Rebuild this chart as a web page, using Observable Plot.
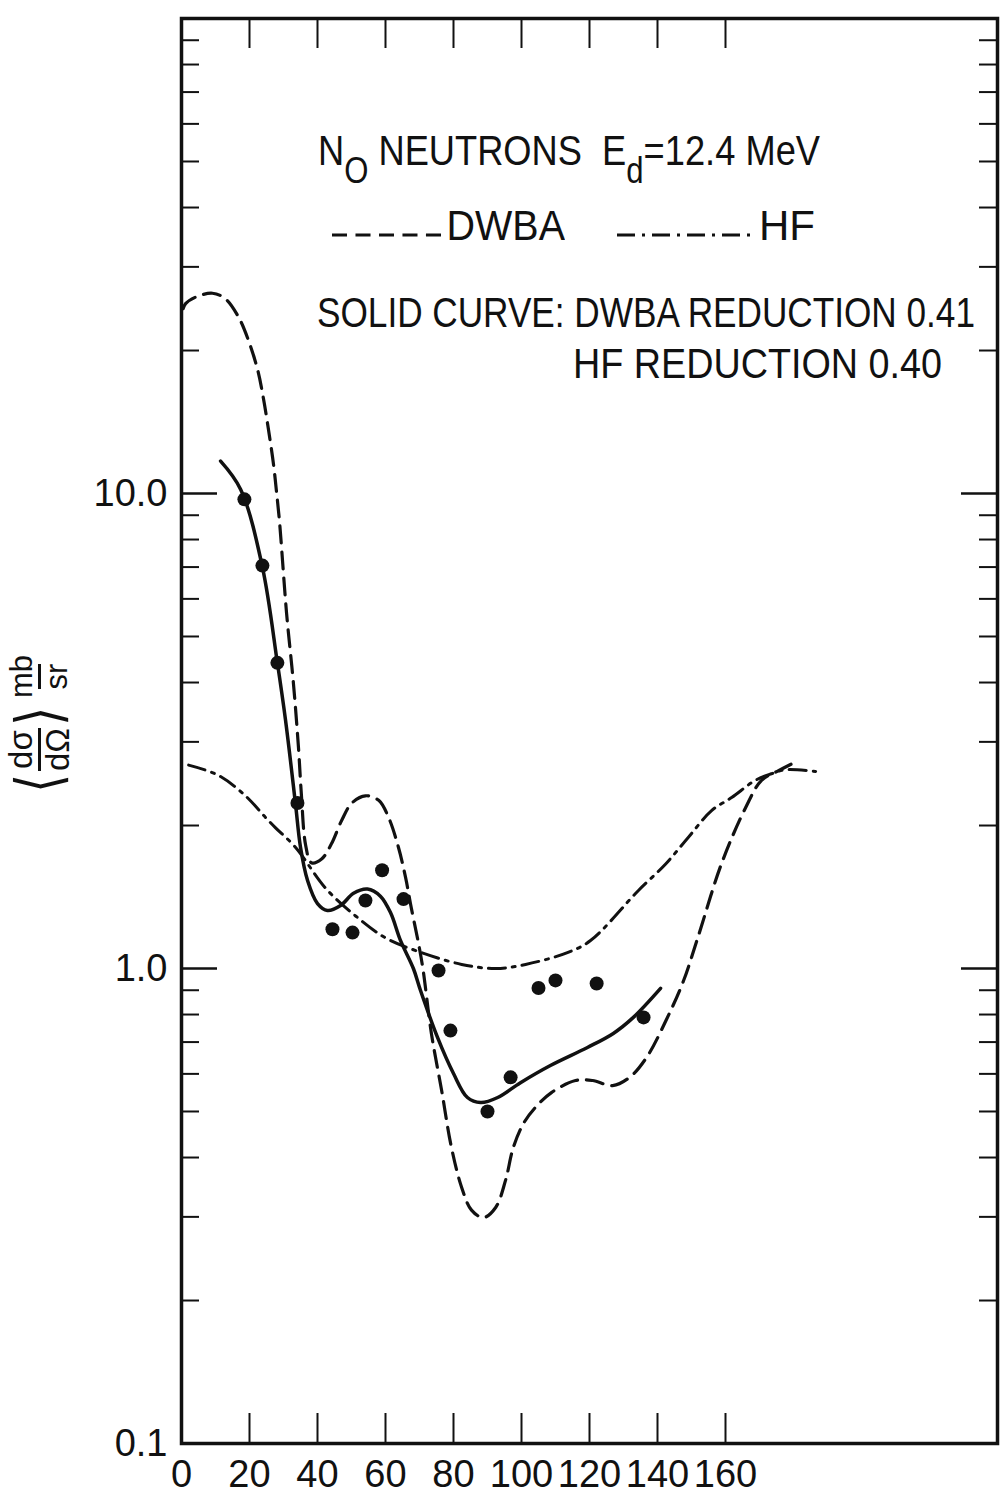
<!DOCTYPE html>
<html>
<head>
<meta charset="utf-8">
<script src="https://cdn.jsdelivr.net/npm/d3@7"></script>
<script src="https://cdn.jsdelivr.net/npm/@observablehq/plot@0.6"></script>
<style>
  html, body { margin: 0; padding: 0; background: #fff; }
  #wrap { position: relative; width: 1002px; height: 1500px; overflow: hidden; background: #fff;
          font-family: "Liberation Sans", Arimo, Arial, sans-serif; color: #000; }
  .ann { position: absolute; font-size: 42px; line-height: 1; white-space: nowrap; color: #111; transform-origin: 0 0; }
  .sub { display: inline-block; font-size: 36px; transform: translateY(18px); }
  #ylab { position: absolute; left: -51px; top: 690px; width: 180px; height: 70px;
          transform: rotate(-90deg); display: flex; align-items: center; justify-content: center; color: #111;
          font-family: "Liberation Sans", Arimo, sans-serif; }
  .frac { display: inline-flex; flex-direction: column; align-items: center; line-height: 1.02; }
  .frac .den { border-top: 3px solid #111; }
  .br { font-size: 62px; font-weight: 100; line-height: 1; transform: scaleX(0.8); display: inline-block; }
</style>
</head>
<body>
<div id="wrap"></div>
<script>
// ---- Data ----
// DWBA (dashed)
const dwbaAngle = [0.5, 1.2, 4.1, 9.1, 12.9, 16.8, 19.7, 22.4, 24.1, 25.6, 27.1, 27.9, 28.8, 30.9, 32.9, 34.4, 35.3, 36.5, 38.2, 41.2, 44.1, 47.1, 50.1, 54.1, 58, 60.9, 63.8, 65.9, 67.6, 69.7, 71, 73.5, 76.5, 79.4, 82.4, 85.3, 88.8, 92.4, 95.3, 97.6, 100.6, 104.1, 108.8, 115.9, 120.9, 126.8, 131.8, 136.8, 142.6, 147.6, 152, 158.8, 165.9, 170.6, 175.6, 181.5];
const dwbaValue = [24.5, 25.1, 25.9, 26.4, 25.7, 23.5, 21.0, 18.2, 15.85, 13.6, 11.46, 10.15, 8.77, 5.6, 4.0, 2.92, 2.3, 1.82, 1.67, 1.70, 1.83, 2.05, 2.23, 2.31, 2.26, 2.08, 1.80, 1.555, 1.34, 1.13, 1.0, 0.73, 0.554, 0.42, 0.346, 0.31, 0.299, 0.314, 0.358, 0.42, 0.472, 0.51, 0.548, 0.581, 0.581, 0.567, 0.59, 0.65, 0.78, 0.94, 1.17, 1.66, 2.18, 2.49, 2.61, 2.74];
// HF (dash-dot)
const hfAngle = [2.1, 10.9, 18.8, 24.7, 27.6, 33.5, 42.6, 51.2, 60, 69, 82.4, 92.4, 101.2, 113.5, 120.3, 134.4, 142.4, 149.1, 155.9, 161.8, 168.8, 173.5, 177.6, 186.5];
const hfValue = [2.68, 2.55, 2.31, 2.08, 1.98, 1.80, 1.47, 1.29, 1.16, 1.09, 1.02, 1.0, 1.02, 1.08, 1.145, 1.46, 1.66, 1.89, 2.15, 2.29, 2.49, 2.57, 2.62, 2.60];
// Solid curve (reduced fit)
const fitAngle = [11.5, 17.4, 23.8, 28.2, 30.6, 33.5, 35, 37.1, 40, 42.9, 46.8, 50.6, 54.7, 58.5, 61.5, 64.4, 68.2, 70.3, 75.3, 80, 84.1, 88, 93, 99.7, 108.5, 119.4, 127, 132.9, 140.9];
const fitValue = [11.7, 10.2, 7.0, 4.4, 3.33, 2.23, 1.80, 1.53, 1.37, 1.325, 1.357, 1.44, 1.47, 1.42, 1.31, 1.146, 1.0, 0.899, 0.716, 0.601, 0.535, 0.522, 0.535, 0.575, 0.625, 0.682, 0.73, 0.789, 0.908];
// Measured N0 neutron points
const expAngle = [18.5, 23.8, 28.2, 34.1, 44.4, 50.3, 54.1, 59, 65.3, 75.6, 79.1, 90, 96.8, 105, 110, 122.1, 135.9];
const expValue = [9.72, 7.05, 4.40, 2.23, 1.21, 1.19, 1.39, 1.61, 1.40, 0.99, 0.74, 0.50, 0.59, 0.91, 0.944, 0.93, 0.789];
// Axis ticks
const xTickValues = [20, 40, 60, 80, 100, 120, 140, 160];
const xTickLabels = [0, 20, 40, 60, 80, 100, 120, 140, 160];
const yMajor = [0.1, 1, 10, 100];
const yLabelValues = [0.1, 1, 10];
const yLabelText = ["0.1", "1.0", "10.0"];
const yMinor = [2,3,4,5,6,7,8,9,20,30,40,50,60,70,80,90,0.2,0.3,0.4,0.5,0.6,0.7,0.8,0.9];

// ---- Layout ----
const W = 1002, H = 1500, mT = 18, mB = 57, mL = 181, mR = 5;
const pw = W - mL - mR, ph = H - mT - mB;
const ink = "#111";
const font = '"Liberation Sans", Arimo, Arial, sans-serif';

const toRows = (xs, ys) => xs.map((x, i) => ({x, y: ys[i]}));
const dwba = toRows(dwbaAngle, dwbaValue);
const hf = toRows(hfAngle, hfValue);
const fit = toRows(fitAngle, fitValue);
const exp = toRows(expAngle, expValue);

const chart = Plot.plot({
  width: W, height: H,
  marginTop: mT, marginBottom: mB, marginLeft: mL, marginRight: mR,
  style: {background: "#fff", color: ink, fontFamily: font, fontSize: "38px"},
  x: {domain: [0, 240], axis: null},
  y: {type: "log", domain: [0.1, 100], axis: null},
  marks: [
    // inward ticks: left / right
    Plot.tickY(yMajor, {y: d => d, insetRight: pw - 36, stroke: ink, strokeWidth: 2.5}),
    Plot.tickY(yMinor, {y: d => d, insetRight: pw - 18, stroke: ink, strokeWidth: 2}),
    Plot.tickY(yMajor, {y: d => d, insetLeft: pw - 36, stroke: ink, strokeWidth: 2.5}),
    Plot.tickY(yMinor, {y: d => d, insetLeft: pw - 18, stroke: ink, strokeWidth: 2}),
    // inward ticks: bottom / top
    Plot.tickX(xTickValues, {x: d => d, insetTop: ph - 30, stroke: ink, strokeWidth: 2}),
    Plot.tickX(xTickValues, {x: d => d, insetBottom: ph - 30, stroke: ink, strokeWidth: 2}),
    Plot.frame({stroke: ink, strokeWidth: 3.5}),
    // tick labels
    Plot.axisX(xTickLabels, {anchor: "bottom", label: null, tickSize: 0, tickPadding: 17, fontSize: 38, fill: ink}),
    Plot.axisY(yLabelValues, {anchor: "left", label: null, tickSize: 0, tickPadding: 14, fontSize: 38, fill: ink,
      tickFormat: d => yLabelText[yLabelValues.indexOf(d)]}),
    // curves
    Plot.line(dwba, {x: "x", y: "y", curve: "catmull-rom", stroke: ink, strokeWidth: 3.2, strokeDasharray: "17,9"}),
    Plot.line(hf, {x: "x", y: "y", curve: "catmull-rom", stroke: ink, strokeWidth: 3, strokeDasharray: "17,7,3,7"}),
    Plot.line(fit, {x: "x", y: "y", curve: "catmull-rom", stroke: ink, strokeWidth: 3.5}),
    Plot.dot(exp, {x: "x", y: "y", r: 7, fill: ink, stroke: "none"})
  ]
});

const wrap = document.getElementById("wrap");
wrap.appendChild(chart);

function ann(html, left, top, targetWidth) {
  const d = document.createElement("div");
  d.className = "ann";
  d.style.left = left + "px";
  d.style.top = top + "px";
  d.innerHTML = html;
  wrap.appendChild(d);
  if (targetWidth) {
    const w = d.getBoundingClientRect().width;
    d.style.transform = `scaleX(${targetWidth / w})`;
  }
  return d;
}
const dashSample = (w, arr) => `<svg width="${w}" height="10" style="vertical-align: 0px; margin-right:2px"><line x1="0" y1="5" x2="${w}" y2="5" stroke="${ink}" stroke-width="3" stroke-dasharray="${arr}"/></svg>`;

ann(`N<span class="sub">O</span> NEUTRONS&nbsp; E<span class="sub">d</span>=12.4 MeV`, 318, 130, 502);
ann(`${dashSample(120, "16,9")}DWBA`, 332, 205, 233);
ann(`${dashSample(140, "18,7,3,7")}HF`, 617, 205, 198);
ann(`SOLID CURVE: DWBA REDUCTION 0.41`, 317, 292, 658);
ann(`HF REDUCTION 0.40`, 573, 343, 369);

const yl = document.createElement("div");
yl.id = "ylab";
yl.innerHTML = `<span class="br">⟨</span><span class="frac" style="font-size:33px"><span>dσ</span><span class="den">dΩ</span></span><span class="br">⟩</span><span class="frac" style="font-size:31px;margin-left:6px"><span>mb</span><span class="den">sr</span></span>`;
wrap.appendChild(yl);
</script>
</body>
</html>
